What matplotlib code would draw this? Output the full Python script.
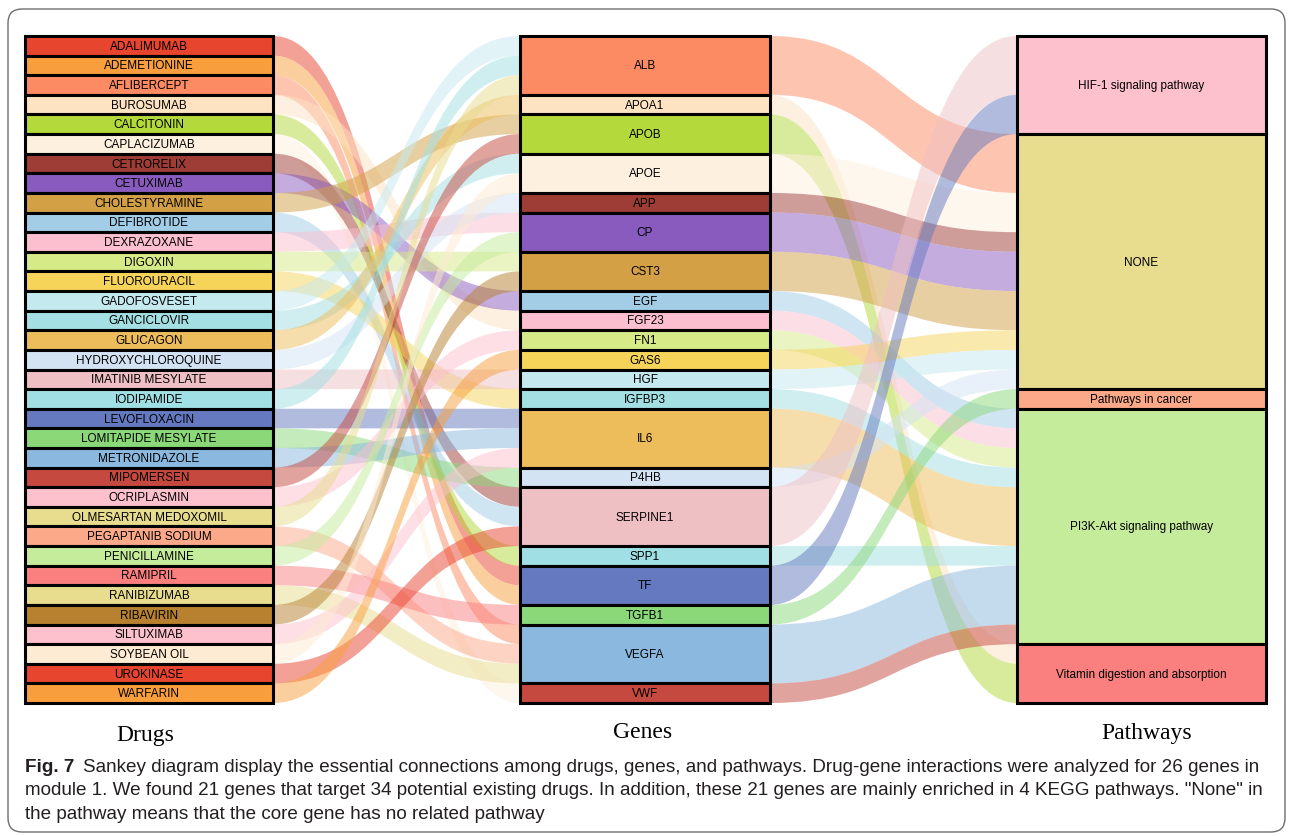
import matplotlib
matplotlib.use('Agg')

import matplotlib.pyplot as plt
from matplotlib.path import Path
from matplotlib.patches import PathPatch, Rectangle, FancyBboxPatch

# ---- data ----
drugs = ['ADALIMUMAB', 'ADEMETIONINE', 'AFLIBERCEPT', 'BUROSUMAB', 'CALCITONIN',
         'CAPLACIZUMAB', 'CETRORELIX', 'CETUXIMAB', 'CHOLESTYRAMINE', 'DEFIBROTIDE',
         'DEXRAZOXANE', 'DIGOXIN', 'FLUOROURACIL', 'GADOFOSVESET', 'GANCICLOVIR',
         'GLUCAGON', 'HYDROXYCHLOROQUINE', 'IMATINIB MESYLATE', 'IODIPAMIDE',
         'LEVOFLOXACIN', 'LOMITAPIDE MESYLATE', 'METRONIDAZOLE', 'MIPOMERSEN',
         'OCRIPLASMIN', 'OLMESARTAN MEDOXOMIL', 'PEGAPTANIB SODIUM', 'PENICILLAMINE',
         'RAMIPRIL', 'RANIBIZUMAB', 'RIBAVIRIN', 'SILTUXIMAB', 'SOYBEAN OIL',
         'UROKINASE', 'WARFARIN']
drug_targets = ['TF', 'TF', 'VEGFA', 'FGF23', 'SPP1',
                'VWF', 'SERPINE1', 'EGF', 'APOB', 'SERPINE1',
                'CP', 'CST3', 'IGFBP3', 'ALB', 'APOE',
                'APOA1', 'APP', 'HGF', 'ALB',
                'IL6', 'P4HB', 'IL6', 'APOB',
                'FN1', 'ALB', 'VEGFA', 'CP',
                'TGFB1', 'VEGFA', 'CST3', 'IL6', 'APOE',
                'SERPINE1', 'GAS6']

genes = ['ALB', 'APOA1', 'APOB', 'APOE', 'APP', 'CP', 'CST3', 'EGF', 'FGF23', 'FN1',
         'GAS6', 'HGF', 'IGFBP3', 'IL6', 'P4HB', 'SERPINE1', 'SPP1', 'TF', 'TGFB1',
         'VEGFA', 'VWF']
gene_pathways = ['NONE', 'Vitamin digestion and absorption', 'Vitamin digestion and absorption',
                 'NONE', 'NONE', 'NONE', 'NONE', 'PI3K-Akt signaling pathway',
                 'PI3K-Akt signaling pathway', 'PI3K-Akt signaling pathway', 'NONE', 'NONE',
                 'PI3K-Akt signaling pathway', 'PI3K-Akt signaling pathway', 'NONE',
                 'HIF-1 signaling pathway', 'PI3K-Akt signaling pathway', 'HIF-1 signaling pathway',
                 'Pathways in cancer', 'PI3K-Akt signaling pathway', 'PI3K-Akt signaling pathway']

pathways = ['HIF-1 signaling pathway', 'NONE', 'Pathways in cancer',
            'PI3K-Akt signaling pathway', 'Vitamin digestion and absorption']

column_titles = ['Drugs', 'Genes', 'Pathways']

caption_bold = 'Fig. 7'
caption_lines = [
    'Sankey diagram display the essential connections among drugs, genes, and pathways. Drug-gene interactions were analyzed for 26 genes in',
    'module 1. We found 21 genes that target 34 potential existing drugs. In addition, these 21 genes are mainly enriched in 4 KEGG pathways. "None" in',
    'the pathway means that the core gene has no related pathway',
]

# ---- colours ----
drug_colors = ['#E8452F', '#F99E3C', '#FC8A63', '#FEE3C2', '#B3D93A',
               '#FEF0DF', '#9E3D36', '#8A5BBF', '#D3A046', '#A3CDE7',
               '#FBBFCF', '#D6EA88', '#F6D45A', '#C4E9EE', '#A3DFE3',
               '#EDBD5B', '#D3E3F4', '#EFC0C3', '#A0DFE3', '#6479BF',
               '#8BD879', '#8AB8DF', '#C5493F', '#FDC0CD', '#E8DC8F',
               '#FCA98A', '#C5EC9B', '#FA8080', '#E8DC8F', '#B7812F',
               '#FDC0CD', '#FEEBD3', '#E8452F', '#F99E3C']
gene_colors = drug_colors[2:23]
pathway_colors = drug_colors[23:28]

# ---- layout ----
W, H = 1293, 837
fig = plt.figure(figsize=(W / 100, H / 100), dpi=100)
ax = fig.add_axes([0, 0, 1, 1])
ax.set_xlim(0, W)
ax.set_ylim(H, 0)
ax.axis('off')

top, bottom = 37, 704
cols = [(25, 273), (520, 770), (1017, 1266)]
unit = (bottom - top) / len(drugs)

drug_size = {d: 1 for d in drugs}
gene_size = {g: drug_targets.count(g) for g in genes}
path_size = {p: sum(gene_size[g] for g, gp in zip(genes, gene_pathways) if gp == p)
             for p in pathways}


def layout(names, sizes):
    pos = {}
    y = top
    for n in names:
        h = sizes[n] * unit
        pos[n] = (y, y + h)
        y += h
    return pos


drug_pos = layout(drugs, drug_size)
gene_pos = layout(genes, gene_size)
path_pos = layout(pathways, path_size)


def band(x0, y0a, y0b, x1, y1a, y1b, color):
    xm = (x0 + x1) / 2
    verts = [(x0, y0a), (xm, y0a), (xm, y1a), (x1, y1a),
             (x1, y1b), (xm, y1b), (xm, y0b), (x0, y0b), (x0, y0a)]
    codes = [Path.MOVETO, Path.CURVE4, Path.CURVE4, Path.CURVE4,
             Path.LINETO, Path.CURVE4, Path.CURVE4, Path.CURVE4, Path.CLOSEPOLY]
    ax.add_patch(PathPatch(Path(verts, codes), facecolor=color, edgecolor='none',
                           alpha=0.5, zorder=1))


# drug -> gene links
cursor = {g: gene_pos[g][0] for g in genes}
for d, g, c in zip(drugs, drug_targets, drug_colors):
    y0a, y0b = drug_pos[d]
    h = y0b - y0a
    band(cols[0][1], y0a, y0b, cols[1][0], cursor[g], cursor[g] + h, c)
    cursor[g] += h

# gene -> pathway links
cursor = {p: path_pos[p][0] for p in pathways}
for g, p, c in zip(genes, gene_pathways, gene_colors):
    y0a, y0b = gene_pos[g]
    h = y0b - y0a
    band(cols[1][1], y0a, y0b, cols[2][0], cursor[p], cursor[p] + h, c)
    cursor[p] += h

# nodes
for (x0, x1), names, pos, colors in [(cols[0], drugs, drug_pos, drug_colors),
                                     (cols[1], genes, gene_pos, gene_colors),
                                     (cols[2], pathways, path_pos, pathway_colors)]:
    for n, c in zip(names, colors):
        ya, yb = pos[n]
        ax.add_patch(Rectangle((x0, ya), x1 - x0, yb - ya, facecolor=c,
                               edgecolor='black', linewidth=2.2, zorder=3))
        ax.text((x0 + x1) / 2, (ya + yb) / 2, n, ha='center', va='center',
                fontsize=8.5, family='Liberation Sans', color='black', zorder=4)

# column titles
for title, x, y in zip(column_titles, [145, 643, 1147], [735, 732, 733]):
    ax.text(x, y, title, ha='center', va='center', fontsize=17,
            family='Liberation Serif', color='black')

# frame
ax.add_patch(FancyBboxPatch((8, 10), 1277, 823, boxstyle='round,pad=0,rounding_size=14',
                            facecolor='none', edgecolor='#6d6e70', linewidth=1.0, zorder=0))

# caption, sized so that the second line spans the same width as in the figure
cap_color = '#231f20'
fig.canvas.draw()
renderer = fig.canvas.get_renderer()
probe = ax.text(0, 0, caption_lines[1], fontsize=12, family='Liberation Sans')
w12 = probe.get_window_extent(renderer).width
probe.remove()
cap_size = 12 * 1242 / w12

t = ax.text(25, 767, caption_bold, ha='left', va='center', fontsize=cap_size,
            fontweight='bold', family='Liberation Sans', color=cap_color)
bb = t.get_window_extent(renderer)
ax.text(25 + bb.width + 9, 767, caption_lines[0], ha='left', va='center',
        fontsize=cap_size, family='Liberation Sans', color=cap_color)
ax.text(25, 791, caption_lines[1], ha='left', va='center',
        fontsize=cap_size, family='Liberation Sans', color=cap_color)
ax.text(25, 815, caption_lines[2], ha='left', va='center',
        fontsize=cap_size, family='Liberation Sans', color=cap_color)

fig.savefig('out.png', dpi=100)
